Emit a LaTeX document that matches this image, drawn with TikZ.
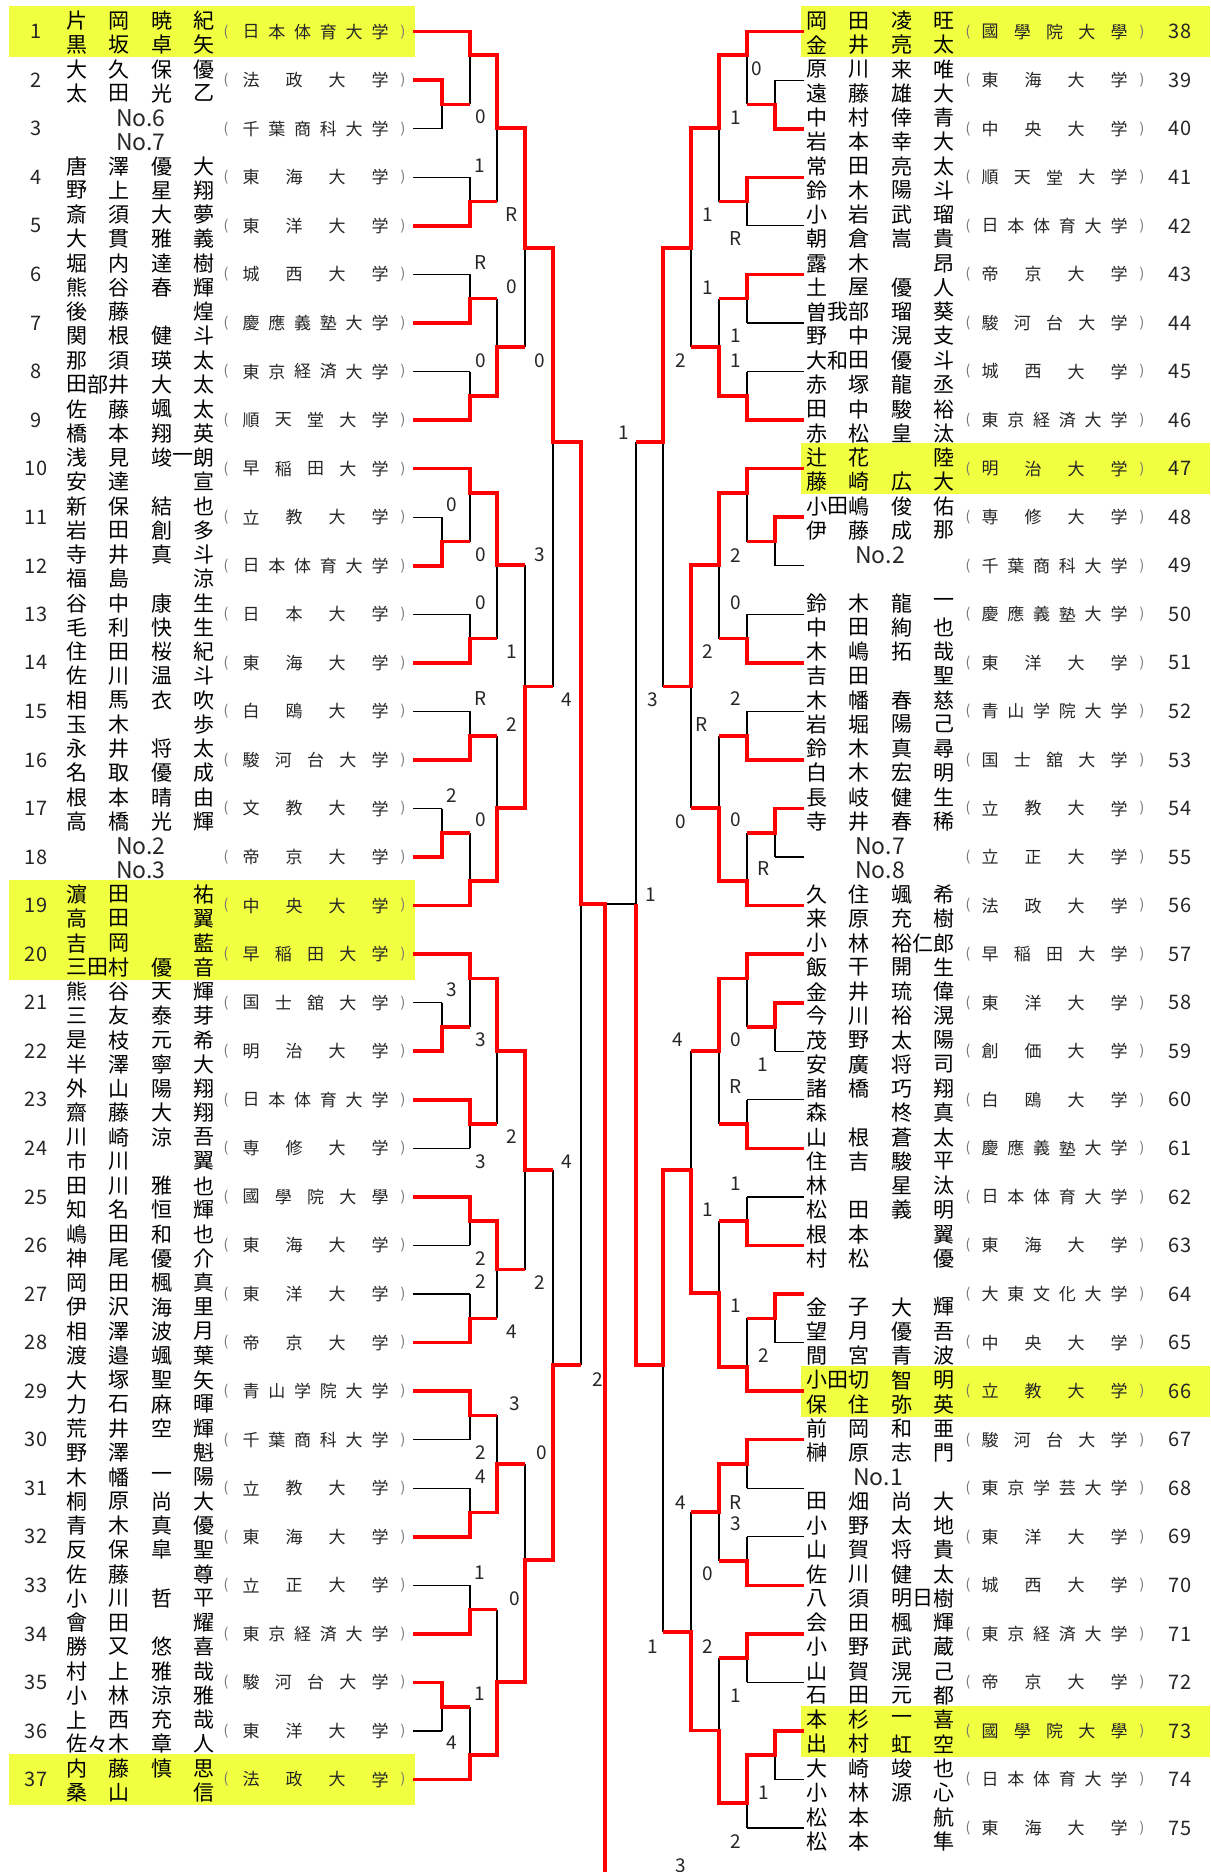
\documentclass[tikz,border=0pt]{standalone}
\usepackage{fontspec}
\setmainfont{Noto Sans CJK JP}
\definecolor{hiyel}{RGB}{240,255,64}
\definecolor{winred}{RGB}{255,0,0}
\tikzset{
  nm/.style={inner sep=0pt,font=\fontsize{10.5}{10.5}\selectfont},
  un/.style={inner sep=0pt,font=\fontsize{8.5}{8.5}\selectfont,text=black!85},
  paren/.style={inner sep=0pt,font=\fontsize{7}{7}\selectfont,text=black!55},
  num/.style={inner sep=0pt,font=\fontsize{10}{10}\selectfont,text=black!85},
  sc/.style={inner sep=0pt,font=\fontsize{9.5}{9.5}\selectfont,text=black!85},
  nolab/.style={inner sep=0pt,font=\fontsize{11.5}{11.5}\selectfont,text=black!85},
  lose/.style={line width=0.6pt,black},
  win/.style={line width=1.8pt,winred,line join=miter},
  hilite/.style={fill=hiyel,draw=none},
}
% spread a list of characters between two x positions
\newcommand\grp[6]{%
  \foreach \chr [count=\k] in {#6}{\xdef\ngrp{\k}}%
  \foreach \chr [count=\k] in {#6}{%
    \ifnum\ngrp=1\relax
      \pgfmathsetmacro\xx{#4}%
    \else
      \pgfmathsetmacro\xx{#2+(\k-1)*((#3)-(#2))/(\ngrp-1)}%
    \fi
    \node[#1] (g\k) at (\xx,#5) {\chr};}%
}
\newcommand\nmL[4]{\pgfmathsetmacro\yy{31.7+(#1-1)*48.55#2}%
  \grp{nm}{77}{119}{77}{\yy}{#3}\grp{nm}{162}{204}{204}{\yy}{#4}}
\newcommand\nmR[4]{\pgfmathsetmacro\yy{31.7+(#1-38)*48.55#2}%
  \grp{nm}{817}{859}{817}{\yy}{#3}\grp{nm}{902}{944}{944}{\yy}{#4}}
\newcommand\rowL[2]{\pgfmathsetmacro\yr{31.7+(#1-1)*48.55}%
  \node[num] (num#1) at (36,\yr) {#1};
  \node[paren] (op#1) at (226,\yr) {(};
  \node[paren] (cp#1) at (403,\yr) {)};
  \grp{un}{251}{380}{251}{\yr}{#2}}
\newcommand\rowR[2]{\pgfmathsetmacro\yr{31.7+(#1-38)*48.55}%
  \node[num] (num#1) at (1180,\yr) {#1};
  \node[paren] (op#1) at (968,\yr) {(};
  \node[paren] (cp#1) at (1142,\yr) {)};
  \grp{un}{990}{1119}{990}{\yr}{#2}}

\begin{document}
\begin{tikzpicture}[x=0.5pt,y=-0.5pt]
\path[use as bounding box,fill=white] (0,0) rectangle (1210,1872);

% highlighted entries
\fill[hilite] (8.5,6) rectangle (415,57);
\fill[hilite] (8.5,880) rectangle (415,979.5);
\fill[hilite] (8.5,1754) rectangle (415,1805);
\fill[hilite] (801,6) rectangle (1210,57);
\fill[hilite] (801,443) rectangle (1210,494);
\fill[hilite] (801,1365.5) rectangle (1210,1416.5);
\fill[hilite] (801,1705.5) rectangle (1210,1756.5);

% entry points
\foreach \n in {1,...,37} \coordinate (L\n) at (413,{31.7+(\n-1)*48.55});
\foreach \n in {38,...,75} \coordinate (R\n) at (804,{31.7+(\n-38)*48.55});

% first round lines
\foreach \n in {2,3,11,12,17,18,21,22,35,36} \draw[lose] (L\n) -- ++(29,0);
\foreach \n in {1,4,5,6,7,8,9,10,13,14,15,16,19,20,23,24,25,26,27,28,29,30,31,32,33,34,37}
  \draw[lose] (L\n) -- ++(57,0);
\foreach \n in {39,40,48,49,54,55,58,59,64,65,73,74} \draw[lose] (R\n) -- ++(-29,0);
\foreach \n in {38,41,42,43,44,45,46,47,50,51,52,53,56,57,60,61,62,63,66,67,68,69,70,71,72,75}
  \draw[lose] (R\n) -- ++(-57,0);

% matches: x / top / bottom / out / next x
\foreach \x/\t/\b/\o/\nx in {
  442/80.25/128.8/104.5/470, 442/517.2/565.75/541.5/470, 442/808.5/857.05/832.8/470,
  442/1002.7/1051.25/1027/470, 442/1682.4/1730.95/1706.7/470,
  470/31.7/104.5/55/497, 470/177.35/225.9/201.6/497, 470/274.45/323/298.7/497,
  470/371.55/420.1/395.8/497, 470/468.65/541.5/493/497, 470/614.3/662.85/638.6/497,
  470/711.4/759.95/735.7/497, 470/832.8/905.6/881/497, 470/954.15/1027/978.5/497,
  470/1099.8/1148.35/1124/497, 470/1196.9/1245.45/1221.2/497, 470/1294/1342.55/1318.3/497,
  470/1391.1/1439.65/1415.4/497, 470/1488.2/1536.75/1512.5/497, 470/1585.3/1633.85/1609.6/497,
  470/1706.7/1779.5/1755/497,
  497/55/201.6/128/525, 497/298.7/395.8/347/525, 497/493/638.6/565/525,
  497/735.7/881/808/525, 497/978.5/1124/1051/525, 497/1221.2/1318.3/1269.5/525,
  497/1415.4/1512.5/1464/525, 497/1609.6/1755/1682/525,
  525/128/347/248/553, 525/565/808/686.5/553, 525/1051/1269.5/1170/553, 525/1464/1682/1560/553,
  553/248/686.5/442/581, 553/1170/1560/1365/581,
  581/442/1365/904/605,
  775/80.25/128.8/104.5/747, 775/517.2/565.75/541.5/747, 775/808.5/857.05/832.8/747,
  775/1002.7/1051.25/1027/747, 775/1294/1342.55/1318.3/747, 775/1730.95/1779.5/1755.2/747,
  747/31.7/104.5/55/719, 747/177.35/225.9/201.6/719, 747/274.45/323/298.7/719,
  747/371.55/420.1/395.8/719, 747/468.65/541.5/493/719, 747/614.3/662.85/638.6/719,
  747/711.4/759.95/735.7/719, 747/832.8/905.6/881/719, 747/954.15/1027/978.5/719,
  747/1099.8/1148.35/1124/719, 747/1196.9/1245.45/1221.2/719, 747/1318.3/1391.1/1367/719,
  747/1439.65/1488.2/1464/719, 747/1536.75/1585.3/1561/719, 747/1633.85/1682.4/1658/719,
  747/1755.2/1828.05/1803/719,
  719/55/201.6/128/691, 719/298.7/395.8/347/691, 719/493/638.6/565/691,
  719/735.7/881/808/691, 719/978.5/1124/1051/691, 719/1221.2/1367/1293/691,
  719/1464/1561/1512/691, 719/1658/1803/1730.5/691,
  691/128/347/248/663, 691/565/808/686.5/663, 691/1051/1293/1170/663, 691/1512/1730.5/1632/663,
  663/248/686.5/442/636, 663/1170/1632/1365/636,
  636/442/1365/904/605}
  \draw[lose] (\x,\t) -- (\x,\b) (\x,\o) -- (\nx,\o);

% winners, left half
\draw[win] (L1) -| (470,55) -| (497,128) -| (525,248) -| (553,442) -| (581,904) -| (605,1880);
\draw[win] (L2) -| (442,104.5) -- (470,104.5);
\draw[win] (L5) -| (470,201.6) -- (497,201.6);
\draw[win] (L7) -| (470,298.7) -- (497,298.7);
\draw[win] (L9) -| (470,395.8) -| (497,347) -- (525,347);
\draw[win] (L10) -| (470,493) -| (497,565) -- (525,565);
\draw[win] (L12) -| (442,541.5) -- (470,541.5);
\draw[win] (L14) -| (470,638.6) -- (497,638.6);
\draw[win] (L16) -| (470,735.7) -- (497,735.7);
\draw[win] (L18) -| (442,832.8) -- (470,832.8);
\draw[win] (L19) -| (470,881) -| (497,808) -| (525,686.5) -- (553,686.5);
\draw[win] (L20) -| (470,978.5) -| (497,1051) -| (525,1170) -- (553,1170);
\draw[win] (L22) -| (442,1027) -- (470,1027);
\draw[win] (L23) -| (470,1124) -- (497,1124);
\draw[win] (L25) -| (470,1221.2) -| (497,1269.5) -- (525,1269.5);
\draw[win] (L28) -| (470,1318.3) -- (497,1318.3);
\draw[win] (L29) -| (470,1415.4) -- (497,1415.4);
\draw[win] (L32) -| (470,1512.5) -| (497,1464) -- (525,1464);
\draw[win] (L34) -| (470,1609.6) -- (497,1609.6);
\draw[win] (L35) -| (442,1706.7) -- (470,1706.7);
\draw[win] (L37) -| (470,1755) -| (497,1682) -| (525,1560) -| (553,1365) -- (581,1365);

% winners, right half
\draw[win] (R38) -| (747,55) -| (719,128) -| (691,248) -| (663,442) -- (636,442);
\draw[win] (R40) -| (775,104.5) -- (747,104.5);
\draw[win] (R41) -| (747,201.6) -- (719,201.6);
\draw[win] (R43) -| (747,298.7) -- (719,298.7);
\draw[win] (R46) -| (747,395.8) -| (719,347) -- (691,347);
\draw[win] (R47) -| (747,493) -| (719,565) -| (691,686.5) -- (663,686.5);
\draw[win] (R48) -| (775,541.5) -- (747,541.5);
\draw[win] (R51) -| (747,638.6) -- (719,638.6);
\draw[win] (R53) -| (747,735.7) -- (719,735.7);
\draw[win] (R54) -| (775,832.8) -- (747,832.8);
\draw[win] (R56) -| (747,881) -| (719,808) -- (691,808);
\draw[win] (R57) -| (747,978.5) -| (719,1051) -- (691,1051);
\draw[win] (R58) -| (775,1027) -- (747,1027);
\draw[win] (R61) -| (747,1124) -- (719,1124);
\draw[win] (R63) -| (747,1221.2) -- (719,1221.2);
\draw[win] (R64) -| (775,1318.3) -- (747,1318.3);
\draw[win] (R66) -| (747,1367) -| (719,1293) -| (691,1170) -| (663,1365) -| (636,904);
\draw[win] (R67) -| (747,1464) -| (719,1512) -- (691,1512);
\draw[win] (R70) -| (747,1561) -- (719,1561);
\draw[win] (R71) -| (747,1658) -- (719,1658);
\draw[win] (R73) -| (775,1755.2) -| (747,1803) -| (719,1730.5) -| (691,1632) -- (663,1632);

% scores
\foreach \x/\y/\t [count=\i] in {
  481/117/0, 480/166/1, 512/215/R, 481/263/R, 512/287/0, 481/361/0, 540/361/0,
  452/505/0, 540/555/3, 481/555/0, 481/603/0, 512/652/1, 567/700/4, 481/699/R,
  512/725/2, 452/796/2, 481/820/0, 452/990/3, 481/1040/3, 512/1137/2, 567/1162/4,
  481/1162/3, 481/1259/2, 540/1283/2, 481/1282/2, 512/1332/4, 598/1380/2, 515/1404/3,
  481/1453/2, 542/1453/0, 481/1477/4, 480/1573/1, 515/1599/0, 480/1694/1, 452/1743/4,
  757/69/0, 736/118/1, 708/215/1, 736/239/R, 708/288/1, 736/336/1, 681/361/2,
  736/361/1, 624/433/1, 736/556/2, 736/603/0, 708/652/2, 653/700/3, 736/699/2,
  702/725/R, 681/822/0, 736/820/0, 764/869/R, 651/895/1, 678/1040/4, 736/1040/0,
  763/1065/1, 736/1087/R, 736/1184/1, 708/1210/1, 736/1306/1, 764/1356/2, 681/1503/4,
  736/1503/R, 736/1524/3, 708/1574/0, 653/1647/1, 708/1647/2, 736/1696/1, 764/1793/1,
  736/1842/2, 681/1866/3}
  \node[sc] (sc\i) at (\x,\y) {\t};

% left column
\rowL{1}{日,本,体,育,大,学}
\rowL{2}{法,政,大,学}
\rowL{3}{千,葉,商,科,大,学}
\rowL{4}{東,海,大,学}
\rowL{5}{東,洋,大,学}
\rowL{6}{城,西,大,学}
\rowL{7}{慶,應,義,塾,大,学}
\rowL{8}{東,京,経,済,大,学}
\rowL{9}{順,天,堂,大,学}
\rowL{10}{早,稲,田,大,学}
\rowL{11}{立,教,大,学}
\rowL{12}{日,本,体,育,大,学}
\rowL{13}{日,本,大,学}
\rowL{14}{東,海,大,学}
\rowL{15}{白,鴎,大,学}
\rowL{16}{駿,河,台,大,学}
\rowL{17}{文,教,大,学}
\rowL{18}{帝,京,大,学}
\rowL{19}{中,央,大,学}
\rowL{20}{早,稲,田,大,学}
\rowL{21}{国,士,舘,大,学}
\rowL{22}{明,治,大,学}
\rowL{23}{日,本,体,育,大,学}
\rowL{24}{専,修,大,学}
\rowL{25}{國,學,院,大,學}
\rowL{26}{東,海,大,学}
\rowL{27}{東,洋,大,学}
\rowL{28}{帝,京,大,学}
\rowL{29}{青,山,学,院,大,学}
\rowL{30}{千,葉,商,科,大,学}
\rowL{31}{立,教,大,学}
\rowL{32}{東,海,大,学}
\rowL{33}{立,正,大,学}
\rowL{34}{東,京,経,済,大,学}
\rowL{35}{駿,河,台,大,学}
\rowL{36}{東,洋,大,学}
\rowL{37}{法,政,大,学}

\nmL{1}{-11}{片,岡}{暁,紀} \nmL{1}{+13}{黒,坂}{卓,矢}
\nmL{2}{-11}{大,久}{保,優} \nmL{2}{+13}{太,田}{光,乙}
\node[nolab] (no6) at (141,117.8) {No.6};
\node[nolab] (no7) at (141,141.8) {No.7};
\nmL{4}{-11}{唐,澤}{優,大} \nmL{4}{+13}{野,上}{星,翔}
\nmL{5}{-11}{斎,須}{大,夢} \nmL{5}{+13}{大,貫}{雅,義}
\nmL{6}{-11}{堀,内}{達,樹} \nmL{6}{+13}{熊,谷}{春,輝}
\nmL{7}{-11}{後,藤}{煌} \nmL{7}{+13}{関,根}{健,斗}
\nmL{8}{-11}{那,須}{瑛,太} \nmL{8}{+13}{田,部,井}{大,太}
\nmL{9}{-11}{佐,藤}{颯,太} \nmL{9}{+13}{橋,本}{翔,英}
\nmL{10}{-11}{浅,見}{竣,一,朗} \nmL{10}{+13}{安,達}{宣}
\nmL{11}{-11}{新,保}{結,也} \nmL{11}{+13}{岩,田}{創,多}
\nmL{12}{-11}{寺,井}{真,斗} \nmL{12}{+13}{福,島}{涼}
\nmL{13}{-11}{谷,中}{康,生} \nmL{13}{+13}{毛,利}{快,生}
\nmL{14}{-11}{住,田}{桜,紀} \nmL{14}{+13}{佐,川}{温,斗}
\nmL{15}{-11}{相,馬}{衣,吹} \nmL{15}{+13}{玉,木}{歩}
\nmL{16}{-11}{永,井}{将,太} \nmL{16}{+13}{名,取}{優,成}
\nmL{17}{-11}{根,本}{晴,由} \nmL{17}{+13}{高,橋}{光,輝}
\node[nolab] (no2) at (141,846) {No.2};
\node[nolab] (no3) at (141,870) {No.3};
\nmL{19}{-11}{濵,田}{祐} \nmL{19}{+13}{高,田}{翼}
\nmL{20}{-11}{吉,岡}{藍} \nmL{20}{+13}{三,田,村}{優,音}
\nmL{21}{-11}{熊,谷}{天,輝} \nmL{21}{+13}{三,友}{泰,芽}
\nmL{22}{-11}{是,枝}{元,希} \nmL{22}{+13}{半,澤}{寧,大}
\nmL{23}{-11}{外,山}{陽,翔} \nmL{23}{+13}{齋,藤}{大,翔}
\nmL{24}{-11}{川,崎}{涼,吾} \nmL{24}{+13}{市,川}{翼}
\nmL{25}{-11}{田,川}{雅,也} \nmL{25}{+13}{知,名}{恒,輝}
\nmL{26}{-11}{嶋,田}{和,也} \nmL{26}{+13}{神,尾}{優,介}
\nmL{27}{-11}{岡,田}{楓,真} \nmL{27}{+13}{伊,沢}{海,里}
\nmL{28}{-11}{相,澤}{波,月} \nmL{28}{+13}{渡,邉}{颯,葉}
\nmL{29}{-11}{大,塚}{聖,矢} \nmL{29}{+13}{力,石}{麻,暉}
\nmL{30}{-11}{荒,井}{空,輝} \nmL{30}{+13}{野,澤}{魁}
\nmL{31}{-11}{木,幡}{一,陽} \nmL{31}{+13}{桐,原}{尚,大}
\nmL{32}{-11}{青,木}{真,優} \nmL{32}{+13}{反,保}{皐,聖}
\nmL{33}{-11}{佐,藤}{尊} \nmL{33}{+13}{小,川}{哲,平}
\nmL{34}{-11}{會,田}{耀} \nmL{34}{+13}{勝,又}{悠,喜}
\nmL{35}{-11}{村,上}{雅,哉} \nmL{35}{+13}{小,林}{涼,雅}
\nmL{36}{-11}{上,西}{充,哉} \nmL{36}{+13}{佐,々,木}{章,人}
\nmL{37}{-11}{内,藤}{慎,思} \nmL{37}{+13}{桑,山}{信}

% right column
\rowR{38}{國,學,院,大,學}
\rowR{39}{東,海,大,学}
\rowR{40}{中,央,大,学}
\rowR{41}{順,天,堂,大,学}
\rowR{42}{日,本,体,育,大,学}
\rowR{43}{帝,京,大,学}
\rowR{44}{駿,河,台,大,学}
\rowR{45}{城,西,大,学}
\rowR{46}{東,京,経,済,大,学}
\rowR{47}{明,治,大,学}
\rowR{48}{専,修,大,学}
\rowR{49}{千,葉,商,科,大,学}
\rowR{50}{慶,應,義,塾,大,学}
\rowR{51}{東,洋,大,学}
\rowR{52}{青,山,学,院,大,学}
\rowR{53}{国,士,舘,大,学}
\rowR{54}{立,教,大,学}
\rowR{55}{立,正,大,学}
\rowR{56}{法,政,大,学}
\rowR{57}{早,稲,田,大,学}
\rowR{58}{東,洋,大,学}
\rowR{59}{創,価,大,学}
\rowR{60}{白,鴎,大,学}
\rowR{61}{慶,應,義,塾,大,学}
\rowR{62}{日,本,体,育,大,学}
\rowR{63}{東,海,大,学}
\rowR{64}{大,東,文,化,大,学}
\rowR{65}{中,央,大,学}
\rowR{66}{立,教,大,学}
\rowR{67}{駿,河,台,大,学}
\rowR{68}{東,京,学,芸,大,学}
\rowR{69}{東,洋,大,学}
\rowR{70}{城,西,大,学}
\rowR{71}{東,京,経,済,大,学}
\rowR{72}{帝,京,大,学}
\rowR{73}{國,學,院,大,學}
\rowR{74}{日,本,体,育,大,学}
\rowR{75}{東,海,大,学}

\nmR{38}{-11}{岡,田}{凌,旺} \nmR{38}{+13}{金,井}{亮,太}
\nmR{39}{-11}{原,川}{来,唯} \nmR{39}{+13}{遠,藤}{雄,大}
\nmR{40}{-11}{中,村}{倖,青} \nmR{40}{+13}{岩,本}{幸,大}
\nmR{41}{-11}{常,田}{亮,太} \nmR{41}{+13}{鈴,木}{陽,斗}
\nmR{42}{-11}{小,岩}{武,瑠} \nmR{42}{+13}{朝,倉}{嵩,貴}
\nmR{43}{-11}{露,木}{昂} \nmR{43}{+13}{土,屋}{優,人}
\nmR{44}{-11}{曽,我,部}{瑠,葵} \nmR{44}{+13}{野,中}{滉,支}
\nmR{45}{-11}{大,和,田}{優,斗} \nmR{45}{+13}{赤,塚}{龍,丞}
\nmR{46}{-11}{田,中}{駿,裕} \nmR{46}{+13}{赤,松}{皇,汰}
\nmR{47}{-11}{辻,花}{陸} \nmR{47}{+13}{藤,崎}{広,大}
\nmR{48}{-11}{小,田,嶋}{俊,佑} \nmR{48}{+13}{伊,藤}{成,那}
\node[nolab] (no2r) at (880,554.8) {No.2};
\nmR{50}{-11}{鈴,木}{龍,一} \nmR{50}{+13}{中,田}{絢,也}
\nmR{51}{-11}{木,嶋}{拓,哉} \nmR{51}{+13}{吉,田}{聖}
\nmR{52}{-11}{木,幡}{春,慈} \nmR{52}{+13}{岩,堀}{陽,己}
\nmR{53}{-11}{鈴,木}{真,尋} \nmR{53}{+13}{白,木}{宏,明}
\nmR{54}{-11}{長,岐}{健,生} \nmR{54}{+13}{寺,井}{春,稀}
\node[nolab] (no7r) at (880,846) {No.7};
\node[nolab] (no8r) at (880,870) {No.8};
\nmR{56}{-11}{久,住}{颯,希} \nmR{56}{+13}{来,原}{充,樹}
\nmR{57}{-11}{小,林}{裕,仁,郎} \nmR{57}{+13}{飯,干}{開,生}
\nmR{58}{-11}{金,井}{琉,偉} \nmR{58}{+13}{今,川}{裕,滉}
\nmR{59}{-11}{茂,野}{太,陽} \nmR{59}{+13}{安,廣}{将,司}
\nmR{60}{-11}{諸,橋}{巧,翔} \nmR{60}{+13}{森}{柊,真}
\nmR{61}{-11}{山,根}{蒼,太} \nmR{61}{+13}{住,吉}{駿,平}
\nmR{62}{-11}{林}{星,汰} \nmR{62}{+13}{松,田}{義,明}
\nmR{63}{-11}{根,本}{翼} \nmR{63}{+13}{村,松}{優}
\nmR{64}{+13}{金,子}{大,輝}
\nmR{65}{-11}{望,月}{優,吾} \nmR{65}{+13}{間,宮}{青,波}
\nmR{66}{-11}{小,田,切}{智,明} \nmR{66}{+13}{保,住}{弥,英}
\nmR{67}{-11}{前,岡}{和,亜} \nmR{67}{+13}{榊,原}{志,門}
\node[nolab] (no1r) at (878,1477.2) {No.1};
\nmR{68}{+13}{田,畑}{尚,大}
\nmR{69}{-11}{小,野}{太,地} \nmR{69}{+13}{山,賀}{将,貴}
\nmR{70}{-11}{佐,川}{健,太} \nmR{70}{+13}{八,須}{明,日,樹}
\nmR{71}{-11}{会,田}{楓,輝} \nmR{71}{+13}{小,野}{武,蔵}
\nmR{72}{-11}{山,賀}{滉,己} \nmR{72}{+13}{石,田}{元,都}
\nmR{73}{-11}{本,杉}{一,喜} \nmR{73}{+13}{出,村}{虹,空}
\nmR{74}{-11}{大,崎}{竣,也} \nmR{74}{+13}{小,林}{源,心}
\nmR{75}{-11}{松,本}{航} \nmR{75}{+13}{松,本}{隼}
\end{tikzpicture}
\end{document}
